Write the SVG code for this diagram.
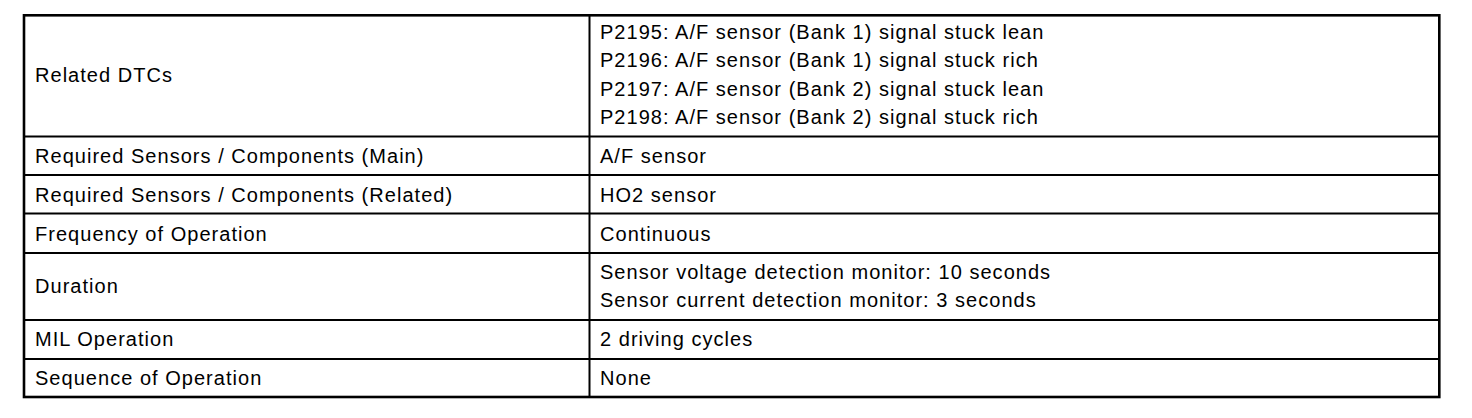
<svg xmlns="http://www.w3.org/2000/svg" width="1472" height="418" viewBox="0 0 1472 418">
<style>
text{font-family:"Liberation Sans",Arial,sans-serif;font-size:20px;fill:#000;letter-spacing:1.03px}
.grid{stroke:#000;stroke-width:2;fill:none}
.outer{stroke:#000;stroke-width:2.6;fill:none}
</style>
<rect width="1472" height="418" fill="#fff"/>
<g id="connectors">
<line class="grid" x1="589.5" y1="15" x2="589.5" y2="397"/>
<line class="grid" x1="24" y1="136.5" x2="1439" y2="136.5"/>
<line class="grid" x1="24" y1="175" x2="1439" y2="175"/>
<line class="grid" x1="24" y1="213.5" x2="1439" y2="213.5"/>
<line class="grid" x1="24" y1="253" x2="1439" y2="253"/>
<line class="grid" x1="24" y1="320" x2="1439" y2="320"/>
<line class="grid" x1="24" y1="359" x2="1439" y2="359"/>
<rect class="outer" x="24" y="15.3" width="1415.3" height="381.7"/>
</g>
<g id="row-related-dtcs">
<text x="35" y="82">Related DTCs</text>
<text x="600" y="38.5">P2195: A/F sensor (Bank 1) signal stuck lean</text>
<text x="600" y="67">P2196: A/F sensor (Bank 1) signal stuck rich</text>
<text x="600" y="95.5">P2197: A/F sensor (Bank 2) signal stuck lean</text>
<text x="600" y="124">P2198: A/F sensor (Bank 2) signal stuck rich</text>
</g>
<g id="row-main">
<text x="35" y="162.5">Required Sensors / Components (Main)</text>
<text x="600" y="162.5">A/F sensor</text>
</g>
<g id="row-related">
<text x="35" y="201.5">Required Sensors / Components (Related)</text>
<text x="600" y="201.5">HO2 sensor</text>
</g>
<g id="row-frequency">
<text x="35" y="240.5">Frequency of Operation</text>
<text x="600" y="240.5">Continuous</text>
</g>
<g id="row-duration">
<text x="35" y="293">Duration</text>
<text x="600" y="279">Sensor voltage detection monitor: 10 seconds</text>
<text x="600" y="307">Sensor current detection monitor: 3 seconds</text>
</g>
<g id="row-mil">
<text x="35" y="346">MIL Operation</text>
<text x="600" y="346">2 driving cycles</text>
</g>
<g id="row-sequence">
<text x="35" y="385">Sequence of Operation</text>
<text x="600" y="385">None</text>
</g>
</svg>
